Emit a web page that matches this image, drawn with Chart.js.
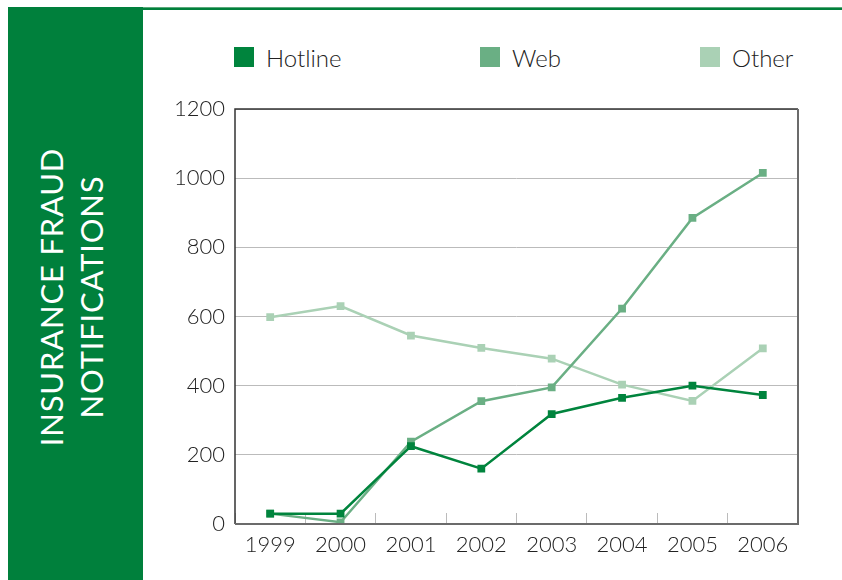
<!DOCTYPE html>
<html>
<head>
<meta charset="utf-8">
<script src="https://cdn.jsdelivr.net/npm/chart.js@4/dist/chart.umd.min.js"></script>
<style>
  html, body { margin: 0; padding: 0; background: #fff; }
  body { width: 842px; height: 580px; position: relative; overflow: hidden; font-family: Lato, "Open Sans", sans-serif; }
  #side { position: absolute; left: 8px; top: 7px; width: 135px; height: 573px; background: #00803C; }
  #side .title { position: absolute; left: 63px; top: 290px; transform: translate(-50%, -50%) rotate(-90deg);
    color: #fff; font-size: 31px; font-weight: 400; line-height: 40px; text-align: center; white-space: nowrap; letter-spacing: 0.8px; }
  #rule { position: absolute; left: 143px; top: 7px; width: 699px; height: 3px; background: #00803C; }
  #rule::before { content: ""; position: absolute; left: 0; top: 0; width: 100%; height: 1px; background: #5aa97a; }
  #legend { position: absolute; top: 42px; left: 0; width: 842px; height: 30px; }
  #legend .item { position: absolute; top: 0; display: flex; align-items: center; height: 30px; font-size: 24px; font-weight: 300; color: #222; }
  #legend .box { width: 20px; height: 20px; margin-right: 12px; }
  #wrap { position: absolute; left: 143px; top: 80px; width: 699px; height: 500px; }
</style>
</head>
<body>
<div id="side"><div class="title">INSURANCE FRAUD<br>NOTIFICATIONS</div></div>
<div id="rule"></div>
<div id="legend"></div>
<div id="wrap"><canvas id="c"></canvas></div>
<script>
// Yearly notification counts by channel
const years = ['1999', '2000', '2001', '2002', '2003', '2004', '2005', '2006'];
const hotline = [30, 30, 225, 160, 318, 365, 400, 373];
const web = [30, 5, 238, 355, 395, 623, 885, 1015];
const other = [598, 630, 545, 509, 478, 403, 356, 508];
const seriesNames = ['Hotline', 'Web', 'Other'];
const seriesColors = ['#00843D', '#6AAF84', '#AAD1B5'];
const legendLeft = [234, 480, 700];

const seriesValues = [hotline, web, other];
const datasets = seriesNames.map((name, i) => ({
  label: name,
  data: seriesValues[i],
  borderColor: seriesColors[i],
  backgroundColor: seriesColors[i],
  borderWidth: 2.5,
  pointStyle: 'rect',
  pointRadius: 5.5,
  pointHoverRadius: 5.5,
  pointBorderWidth: 0,
  tension: 0
}));

// Legend row above the plot
const legend = document.getElementById('legend');
seriesNames.forEach((name, i) => {
  const item = document.createElement('div');
  item.className = 'item';
  item.style.left = legendLeft[i] + 'px';
  item.innerHTML = '<div class="box" style="background:' + seriesColors[i] + '"></div>' + name;
  legend.appendChild(item);
});

// Frame around the plotting area
const frame = {
  id: 'frame',
  afterDraw(chart) {
    const { ctx, chartArea: a } = chart;
    ctx.save();
    ctx.lineWidth = 1.5;
    ctx.strokeStyle = '#333';
    ctx.beginPath();
    ctx.moveTo(a.left, a.bottom);
    ctx.lineTo(a.left, a.top);
    ctx.lineTo(a.right, a.top);
    ctx.stroke();
    ctx.lineWidth = 2;
    ctx.strokeStyle = '#6b6b6b';
    ctx.beginPath();
    ctx.moveTo(a.right, a.top);
    ctx.lineTo(a.right, a.bottom);
    ctx.lineTo(a.left, a.bottom);
    ctx.stroke();
    ctx.restore();
  }
};

const font = { family: 'Lato, "Open Sans", sans-serif', size: 22, weight: 300 };

new Chart(document.getElementById('c'), {
  type: 'line',
  data: { labels: years, datasets },
  plugins: [frame],
  options: {
    responsive: true,
    maintainAspectRatio: false,
    animation: false,
    layout: { padding: { top: 29, right: 44, bottom: 0, left: 0 } },
    plugins: { legend: { display: false }, tooltip: { enabled: false } },
    scales: {
      x: {
        type: 'category',
        offset: true,
        grid: { offset: true, drawOnChartArea: false, drawTicks: true, tickLength: -11, color: '#bbb', lineWidth: 1 },
        border: { display: false },
        ticks: { color: '#222', font, padding: 19, maxRotation: 0, autoSkip: false },
        afterFit(scale) { scale.height = 56; }
      },
      y: {
        min: 0,
        max: 1200,
        ticks: { stepSize: 200, color: '#222', font, padding: 10, callback: (v) => String(v) },
        grid: { color: '#bbb', lineWidth: 1, drawTicks: false },
        border: { display: false },
        afterFit(scale) { scale.width = 92; }
      }
    }
  }
});
</script>
</body>
</html>
